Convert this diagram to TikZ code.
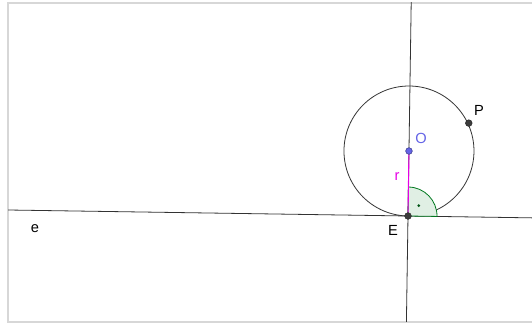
\documentclass[tikz,border=0pt]{standalone}
\usepackage{fontspec}
\setmainfont{Liberation Sans}
\usetikzlibrary{calc}
\definecolor{framecolor}{RGB}{215,215,215}
\definecolor{pointcolor}{RGB}{60,60,60}
\definecolor{centercolor}{RGB}{100,100,230}
\definecolor{radiuscolor}{RGB}{230,0,230}
\definecolor{anglecolor}{RGB}{0,120,30}
\tikzset{
  point/.style={
    circle,
    draw=pointcolor!70!black,
    fill=pointcolor,
    inner sep=0pt,
    minimum size=5pt
  },
  lbl/.style={
    inner sep=0pt,
    font=\fontsize{11}{13}\selectfont
  },
  geoline/.style={
    draw=black!80,
    line width=0.6pt
  }
}

\begin{document}
\begin{tikzpicture}[x=0.75pt, y=-0.75pt]

% Canvas
\useasboundingbox (0,0) rectangle (532,324);
\draw[framecolor, line width=1pt] (540,3) -- (8,3) -- (8,322) -- (540,322);

% Points
\coordinate (E) at (408,216);
\coordinate (O) at ($(E)+(-89.14:65)$);
\coordinate (eL) at ($(E)+(180.86:400)$);
\coordinate (eR) at ($(E)+(0.86:126)$);
\coordinate (vT) at ($(E)+(-89.14:214)$);
\coordinate (vB) at ($(E)+(90.86:106)$);
\coordinate (P) at ($(O)+(-25:66)$);

% Lines and circle
\draw[geoline] (eL) -- (eR);
\draw[geoline] (vB) -- (vT);
\draw[geoline] (O) circle[radius=65];

% Right angle mark
\draw[anglecolor, fill=anglecolor!12, line width=0.6pt]
  (E) -- ($(E)+(0.86:29)$) arc[start angle=0.86, end angle=-89.14, radius=29] -- cycle;
\fill[anglecolor!70!black] ($(E)+(-44.14:15)$) circle[radius=1.5];

% Radius
\draw[radiuscolor, line width=0.8pt] (O) -- (E);

% Point marks
\node[point] (nE) at (E) {};
\node[point, fill=centercolor, draw=centercolor!60!black] (nO) at (O) {};
\node[point] (nP) at (P) {};

% Labels
\node[lbl, text=centercolor] (lO) at (421,138) {O};
\node[lbl] (lP) at (479,110) {P};
\node[lbl, text=radiuscolor] (lr) at (397,177) {r};
\node[lbl] (lE) at (393,230) {E};
\node[lbl] (le) at (35,229) {e};

\end{tikzpicture}
\end{document}
